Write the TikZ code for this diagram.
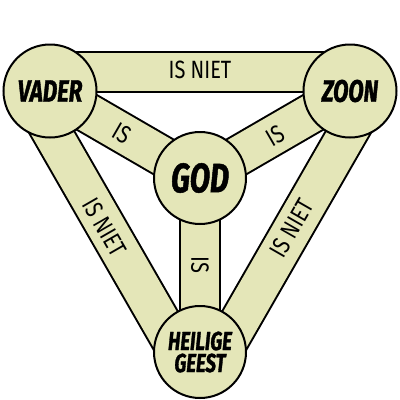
\documentclass[tikz,border=0pt]{standalone}
\usepackage{fontspec}
\setmainfont{Fira Sans}
\newfontfamily\namefont{Fira Sans}[FakeStretch=0.72, FakeBold=1.2]
\newfontfamily\barfont{Fira Sans}[FakeStretch=0.8]
\usetikzlibrary{calc}
\definecolor{shieldfill}{RGB}{228,230,184}
\tikzset{
  person/.style={circle, draw=black, line width=2bp, fill=shieldfill, minimum size=93bp, inner sep=0pt,
    font=\namefont\bfseries\itshape\fontsize{31bp}{33bp}\selectfont, align=center},
  godnode/.style={person, minimum size=92bp, font=\namefont\bfseries\itshape\fontsize{41bp}{43bp}\selectfont},
  geestnode/.style={person, minimum size=92bp, font=\namefont\bfseries\itshape\fontsize{26bp}{22bp}\selectfont},
  barout/.style={line width=42bp, black},
  barin/.style={line width=38bp, shieldfill},
  barlabel/.style={font=\barfont\fontsize{25bp}{27bp}\selectfont, inner sep=0pt}
}
\begin{document}
\begin{tikzpicture}[x=1bp,y=-1bp]
\useasboundingbox (0,0) rectangle (400,400);
\coordinate (V) at (50,91);
\coordinate (Z) at (350,91);
\coordinate (G) at (200,178);
\coordinate (H) at (200,352);
% outer bars (offset outward)
\coordinate (v1) at ($(V)!19bp!90:(Z)$);
\coordinate (z1) at ($(Z)!19bp!-90:(V)$);
\coordinate (z2) at ($(Z)!19bp!90:(H)$);
\coordinate (h2) at ($(H)!19bp!-90:(Z)$);
\coordinate (h3) at ($(H)!19bp!90:(V)$);
\coordinate (v3) at ($(V)!19bp!-90:(H)$);
\foreach \a/\b in {v1/z1, z2/h2, h3/v3, V/G, Z/G, G/H} {
  \draw[barout] (\a) -- (\b);
}
\foreach \a/\b in {v1/z1, z2/h2, h3/v3, V/G, Z/G, G/H} {
  \draw[barin] (\a) -- (\b);
}
% labels on bars
\node[barlabel, anchor=base] (lvz) at (200,78) {IS NIET};
\node[barlabel, rotate=-60.1] (lvh) at (105,227) {IS NIET};
\node[barlabel, rotate=60.1] (lzh) at (292,228) {IS NIET};
\node[barlabel, rotate=-30.1] (lvg) at (122,133) {IS};
\node[barlabel, rotate=30.1] (lzg) at (275,136) {IS};
\node[barlabel, rotate=-90] (lgh) at (200,265) {IS};
% circles
\node[person] (vader) at (V) {VADER};
\node[person] (zoon) at (Z) {ZOON};
\node[godnode] (god) at (G) {GOD};
\node[geestnode] (geest) at (H) {HEILIGE\\GEEST};
\end{tikzpicture}
\end{document}
